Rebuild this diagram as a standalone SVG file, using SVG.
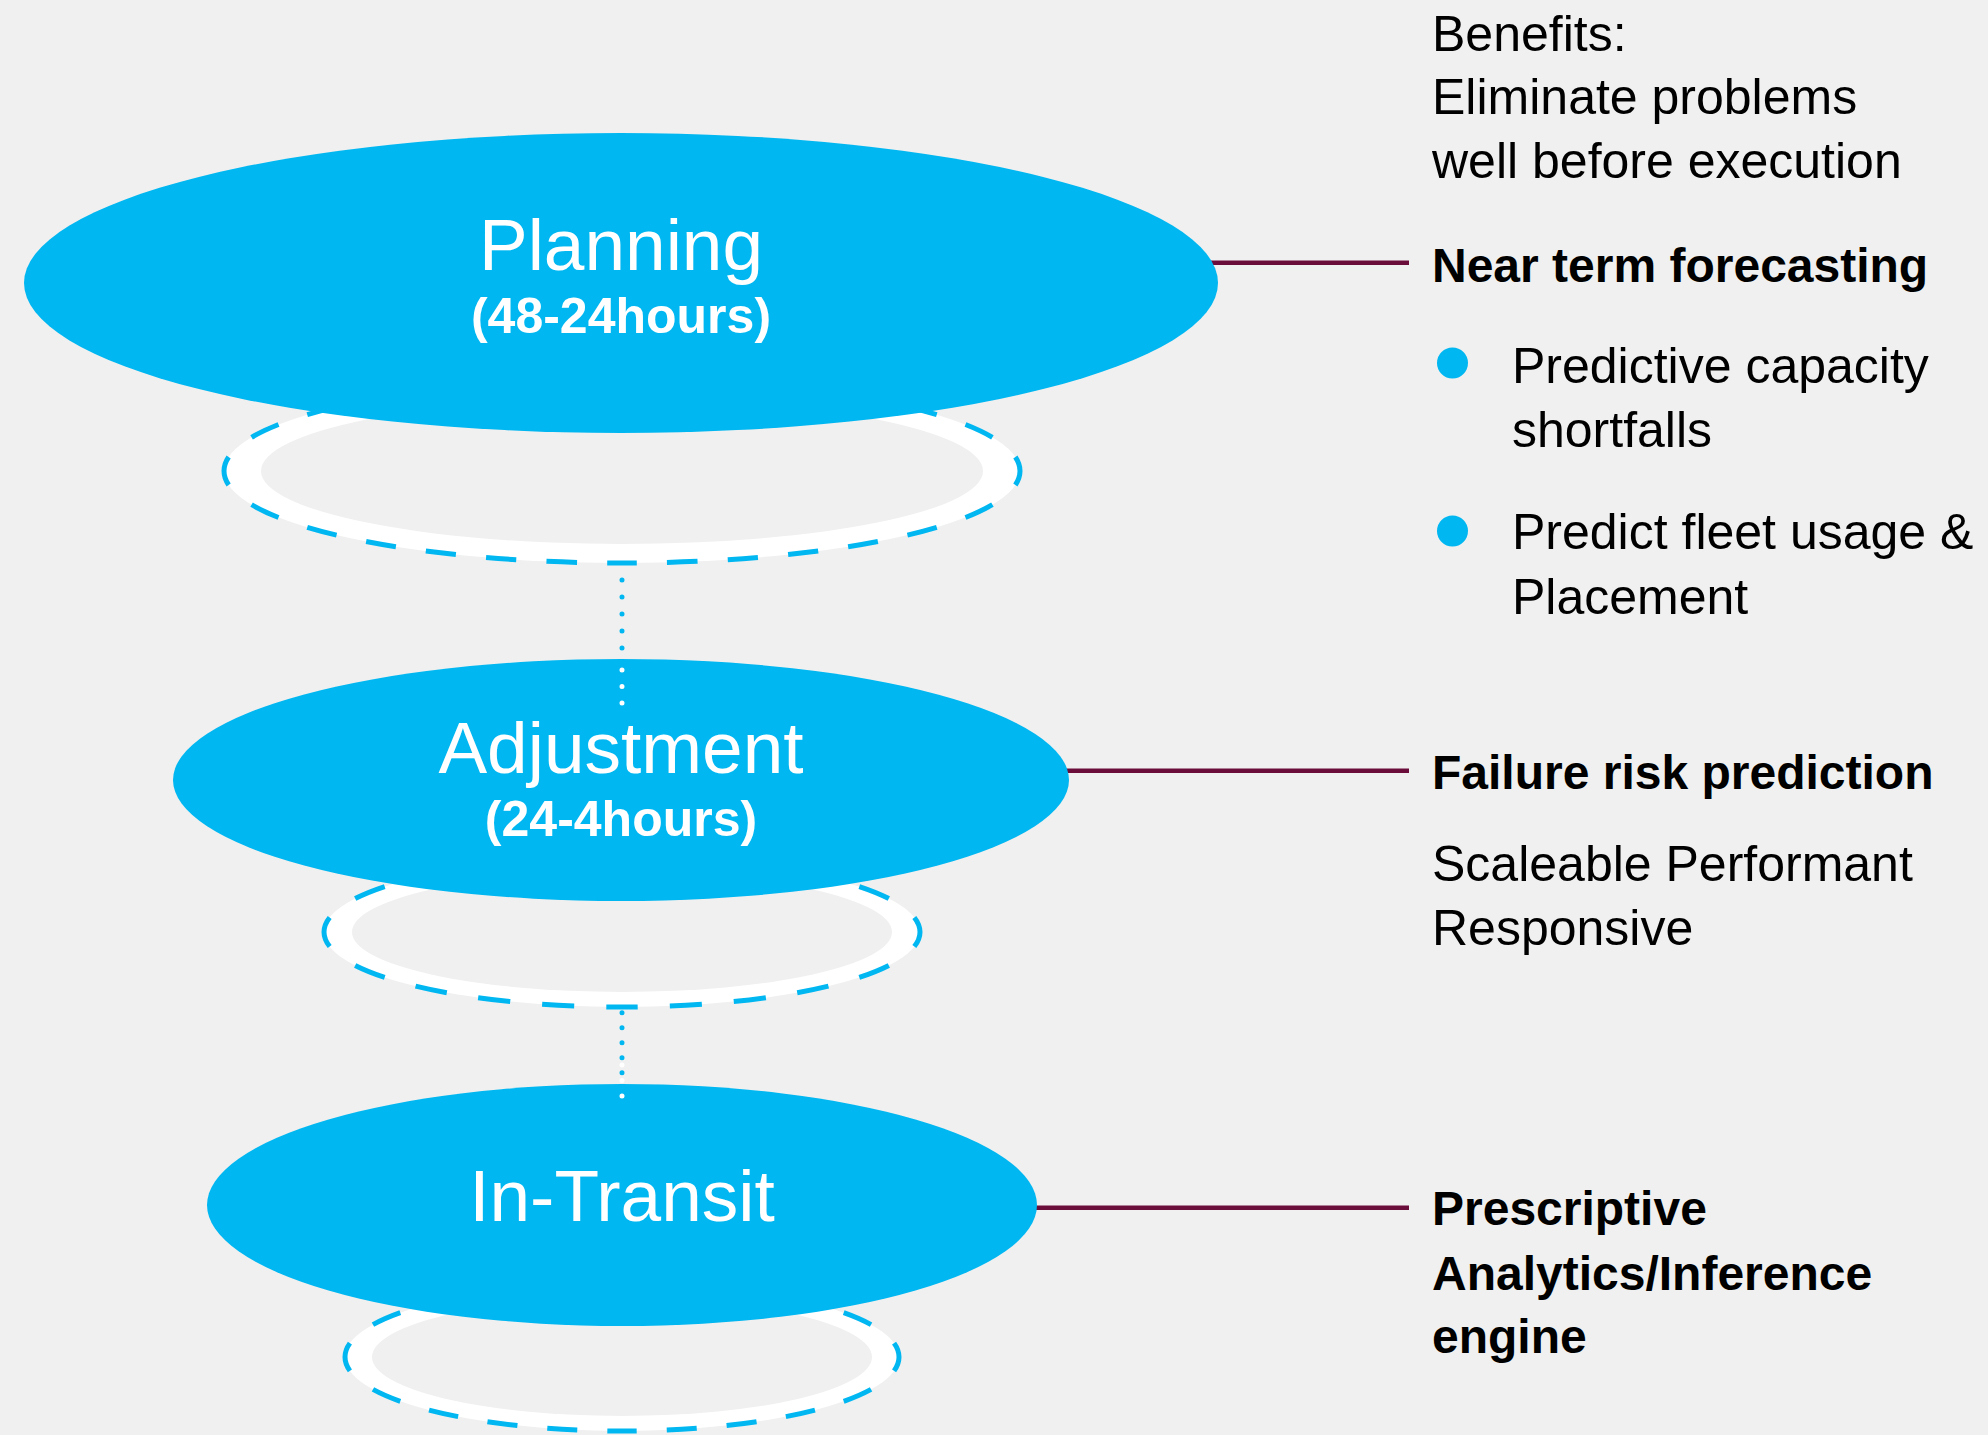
<svg xmlns="http://www.w3.org/2000/svg" width="1988" height="1435" viewBox="0 0 1988 1435">
<style>
.bg{fill:#f0f0f0}
.node{fill:#00b7f1}
.ring-w{fill:#ffffff}
.ring-in{fill:#f0f0f0}
.ring-d{fill:none;stroke:#00b7f1;stroke-width:5;stroke-dasharray:1 1;stroke-dashoffset:0.5}
.dot-b{fill:none;stroke:#00b7f1;stroke-width:5;stroke-linecap:round}
.dot-w{fill:none;stroke:#ffffff;stroke-width:5;stroke-linecap:round}
.link{stroke:#6a0d3b;stroke-width:4.5;fill:none}
.t-main{font-family:"Liberation Sans",Arial,sans-serif;font-size:73px;fill:#ffffff;text-anchor:middle}
.t-sub{font-family:"Liberation Sans",Arial,sans-serif;font-size:50px;font-weight:bold;fill:#ffffff;text-anchor:middle}
.t-r{font-family:"Liberation Sans",Arial,sans-serif;font-size:50px;fill:#000000}
.t-b{font-family:"Liberation Sans",Arial,sans-serif;font-size:48px;font-weight:bold;fill:#000000}
.bullet{fill:#00b7f1}
</style>
<rect class="bg" x="0" y="0" width="1988" height="1435"/>

<g id="rings">
  <g id="ring-1">
    <ellipse class="ring-w" cx="622" cy="471" rx="398" ry="92"/>
    <ellipse class="ring-in" cx="622" cy="471" rx="361" ry="73"/>
    <path class="ring-d" pathLength="56" d="M622,563 A398,92 0 1 1 622,379 A398,92 0 1 1 622,563 Z"/>
  </g>
  <g id="ring-2">
    <ellipse class="ring-w" cx="622" cy="932" rx="298" ry="75"/>
    <ellipse class="ring-in" cx="622" cy="932" rx="270" ry="60"/>
    <path class="ring-d" pathLength="40" d="M622,1007 A298,75 0 1 1 622,857 A298,75 0 1 1 622,1007 Z"/>
  </g>
  <g id="ring-3">
    <ellipse class="ring-w" cx="622" cy="1357" rx="277" ry="74"/>
    <ellipse class="ring-in" cx="622" cy="1357" rx="250" ry="59"/>
    <path class="ring-d" pathLength="40" d="M622,1431 A277,74 0 1 1 622,1283 A277,74 0 1 1 622,1431 Z"/>
  </g>
</g>

<g id="connectors">
  <path class="dot-b" stroke-dasharray="0 17" d="M622,580 L622,720"/>
  <path class="dot-b" stroke-dasharray="0 15" d="M622,1012.7 L622,1100"/>
  <line class="link" x1="1150" y1="262.7" x2="1409" y2="262.7"/>
  <line class="link" x1="1000" y1="770.7" x2="1409" y2="770.7"/>
  <line class="link" x1="1000" y1="1207.7" x2="1409" y2="1207.7"/>
</g>

<g id="node-planning">
  <ellipse class="node" cx="621" cy="283" rx="597" ry="150"/>
  <text class="t-main" x="621" y="270">Planning</text>
  <text class="t-sub" x="621" y="333">(48-24hours)</text>
</g>

<g id="node-adjustment">
  <ellipse class="node" cx="621" cy="780" rx="448" ry="121"/>
  <text class="t-main" x="621" y="773">Adjustment</text>
  <text class="t-sub" x="621" y="836">(24-4hours)</text>
</g>

<g id="node-intransit">
  <ellipse class="node" cx="622" cy="1205" rx="415" ry="121"/>
  <text class="t-main" x="622" y="1221">In-Transit</text>
</g>

<g id="connectors-overlay">
  <path class="dot-w" stroke-dasharray="0 16.5" d="M622,670 L622,710"/>
  <path class="dot-w" stroke-dasharray="0 15.5" d="M622,1065 L622,1100"/>
</g>

<g id="text-benefits">
  <text class="t-r" x="1432" y="51">Benefits:</text>
  <text class="t-r" x="1432" y="114">Eliminate problems</text>
  <text class="t-r" x="1432" y="178">well before execution</text>
</g>

<g id="text-near-term">
  <text class="t-b" x="1432" y="282">Near term forecasting</text>
  <circle class="bullet" cx="1452.5" cy="363" r="15.5"/>
  <text class="t-r" x="1512" y="383">Predictive capacity</text>
  <text class="t-r" x="1512" y="447">shortfalls</text>
  <circle class="bullet" cx="1452.5" cy="531" r="15.5"/>
  <text class="t-r" x="1512" y="549">Predict fleet usage &amp;</text>
  <text class="t-r" x="1512" y="614">Placement</text>
</g>

<g id="text-failure">
  <text class="t-b" x="1432" y="789">Failure risk prediction</text>
  <text class="t-r" x="1432" y="881">Scaleable Performant</text>
  <text class="t-r" x="1432" y="945">Responsive</text>
</g>

<g id="text-prescriptive">
  <text class="t-b" x="1432" y="1225">Prescriptive</text>
  <text class="t-b" x="1432" y="1290">Analytics/Inference</text>
  <text class="t-b" x="1432" y="1353">engine</text>
</g>
</svg>
